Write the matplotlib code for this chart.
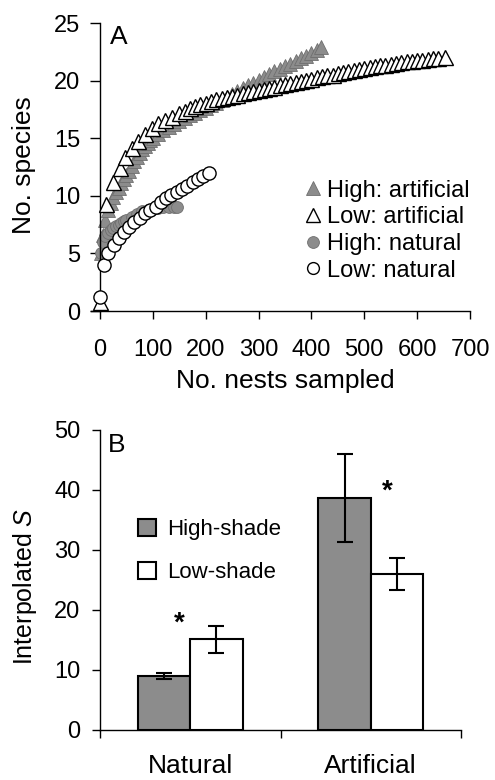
import matplotlib
matplotlib.use("Agg")
import matplotlib.pyplot as plt
from matplotlib.lines import Line2D
from matplotlib.patches import Patch

plt.rcParams['font.family'] = ['Liberation Sans', 'DejaVu Sans']
plt.rcParams['mathtext.fontset'] = 'custom'
plt.rcParams['mathtext.it'] = 'Liberation Sans:italic'
plt.rcParams['mathtext.rm'] = 'Liberation Sans'

# ---------------- Panel A data (rarefaction curves) ----------------
high_art_x = [1, 5, 10, 15, 20, 25, 30, 35, 40, 45, 50, 55, 60, 65, 70, 75, 80, 85, 90, 95,
              100, 110, 120, 130, 140, 150, 160, 170, 180, 190, 200, 210, 220, 230, 240,
              250, 260, 270, 280, 290, 300, 310, 320, 330, 340, 350, 360, 370, 380, 390,
              400, 410, 418]
high_art_y = [5.0, 6.6, 7.9, 8.8, 9.4, 9.9, 10.3, 10.7, 11.1, 11.5, 11.85, 12.2, 12.6, 13.0,
              13.35, 13.7, 14.05, 14.35, 14.6, 14.85, 15.05, 15.4, 15.7, 16.0, 16.25, 16.5,
              16.75, 17.0, 17.2, 17.45, 17.65, 17.9, 18.1, 18.35, 18.6, 18.85, 19.1, 19.35,
              19.6, 19.85, 20.1, 20.35, 20.6, 20.85, 21.05, 21.3, 21.5, 21.75, 22.0, 22.2,
              22.45, 22.7, 22.9]

low_art_x = [0, 12, 25, 37, 48, 60, 72, 85, 98, 110, 123, 136, 150, 160, 170, 180, 190, 200,
             210, 220, 230, 240, 250, 260, 270, 280, 290, 300, 310, 320, 330, 340, 350, 360,
             370, 380, 390, 400, 410, 420, 430, 440, 450, 460, 470, 480, 490, 500, 510, 520,
             530, 540, 550, 560, 570, 580, 590, 600, 610, 620, 630, 640, 652]
low_art_y = [0.8, 9.3, 11.2, 12.4, 13.4, 14.2, 14.8, 15.4, 15.9, 16.3, 16.6, 16.9, 17.2, 17.4,
             17.6, 17.8, 17.95, 18.1, 18.25, 18.4, 18.5, 18.6, 18.7, 18.8, 18.9, 19.0, 19.1,
             19.2, 19.3, 19.4, 19.5, 19.6, 19.7, 19.8, 19.9, 20.0, 20.1, 20.2, 20.3, 20.4,
             20.5, 20.55, 20.65, 20.75, 20.85, 20.95, 21.05, 21.1, 21.2, 21.3, 21.35, 21.4,
             21.5, 21.55, 21.6, 21.7, 21.75, 21.8, 21.85, 21.9, 21.95, 22.0, 22.1]

high_nat_x = [1, 5, 10, 15, 20, 25, 30, 35, 40, 45, 50, 60, 70, 80, 90, 100, 110, 120, 130,
              140, 145]
high_nat_y = [5.0, 6.0, 6.5, 6.8, 7.0, 7.2, 7.35, 7.5, 7.65, 7.8, 7.95, 8.2, 8.45, 8.65, 8.8,
              8.9, 8.95, 9.0, 9.0, 9.05, 9.05]

low_nat_x = [0, 7, 16, 26, 35, 45, 55, 65, 75, 85, 95, 105, 115, 125, 135, 145, 155, 165, 175,
             185, 195, 206]
low_nat_y = [1.2, 4.0, 5.0, 5.7, 6.3, 6.9, 7.3, 7.75, 8.1, 8.5, 8.8, 9.05, 9.5, 9.8, 10.1,
             10.35, 10.6, 10.9, 11.2, 11.5, 11.7, 11.95]

legend_a_labels = ['High: artificial', 'Low: artificial', 'High: natural', 'Low: natural']
xticks_a = [0, 100, 200, 300, 400, 500, 600, 700]
yticks_a = [0, 5, 10, 15, 20, 25]

# ---------------- Panel B data ----------------
categories = ['Natural', 'Artificial']
high_shade = [9.0, 38.7]
high_shade_err = [0.5, 7.3]
low_shade = [15.1, 26.0]
low_shade_err = [2.3, 2.7]
legend_b_labels = ['High-shade', 'Low-shade']
yticks_b = [0, 10, 20, 30, 40, 50]

GREY = '#8c8c8c'
W, H = 495, 780
fig = plt.figure(figsize=(W / 100, H / 100), dpi=100)

TICK_FS = 17
LABEL_FS = 19

# ================= Panel A =================
axA = fig.add_axes([90.7 / W, (H - 311) / H, (470 - 90.7) / W, (311 - 23.3) / H])
axA.plot(high_art_x, high_art_y, linestyle='none', marker='^', ms=10.5, mfc=GREY,
         mec='#6e6e6e', mew=0.6, clip_on=False, zorder=2)
axA.plot(high_nat_x, high_nat_y, linestyle='none', marker='o', ms=8.5, mfc=GREY,
         mec='#6e6e6e', mew=0.6, clip_on=False, zorder=2)
axA.plot(low_art_x, low_art_y, linestyle='none', marker='^', ms=10.8, mfc='white',
         mec='black', mew=1.0, clip_on=False, zorder=3)
axA.plot(low_nat_x, low_nat_y, linestyle='none', marker='o', ms=9.5, mfc='white',
         mec='black', mew=1.0, clip_on=False, zorder=4)

axA.set_xlim(-17.6, 700)
axA.set_ylim(0, 25)
axA.spines['top'].set_visible(False)
axA.spines['right'].set_visible(False)
axA.spines['left'].set_position(('data', 0))
for s in axA.spines.values():
    s.set_linewidth(1.0)
axA.set_xticks(xticks_a)
axA.set_yticks(yticks_a)
axA.tick_params(axis='x', direction='out', length=6, width=1.0, pad=14, labelsize=TICK_FS)
axA.tick_params(axis='y', direction='out', length=7, width=1.0, pad=7, labelsize=TICK_FS)
axA.set_xlabel('No. nests sampled', fontsize=LABEL_FS)
axA.xaxis.set_label_coords(0.512, -0.2)
axA.set_ylabel('No. species', fontsize=LABEL_FS)
axA.yaxis.set_label_coords(-0.145, 0.507)
axA.text(0.051, 0.994, 'A', transform=axA.transAxes, ha='left', va='top', fontsize=LABEL_FS)

handlesA = [
    Line2D([], [], linestyle='none', marker='^', ms=10.5, mfc=GREY, mec='#6e6e6e', mew=0.6),
    Line2D([], [], linestyle='none', marker='^', ms=10.5, mfc='white', mec='black', mew=1.0),
    Line2D([], [], linestyle='none', marker='o', ms=8.5, mfc=GREY, mec='#6e6e6e', mew=0.6),
    Line2D([], [], linestyle='none', marker='o', ms=8.5, mfc='white', mec='black', mew=1.0),
]
axA.legend(handlesA, legend_a_labels, loc='upper left', bbox_to_anchor=(0.5676, 0.457),
           frameon=False, fontsize=17, handlelength=0.6, handletextpad=0.3,
           labelspacing=0.2, borderpad=0, borderaxespad=0)

# ================= Panel B =================
axB = fig.add_axes([100 / W, 50 / H, 361 / W, 300 / H])
pos = list(range(len(categories)))
bw = 0.29
off = 0.145
axB.bar([p - off for p in pos], high_shade, width=bw, color=GREY, edgecolor='black',
        linewidth=1.5, zorder=2)
axB.bar([p + off for p in pos], low_shade, width=bw, color='white', edgecolor='black',
        linewidth=1.5, zorder=2)
axB.errorbar([p - off for p in pos], high_shade, yerr=high_shade_err, fmt='none',
             ecolor='black', elinewidth=1.5, capsize=5.5, capthick=1.5, zorder=3)
axB.errorbar([p + off for p in pos], low_shade, yerr=low_shade_err, fmt='none',
             ecolor='black', elinewidth=1.5, capsize=5.5, capthick=1.5, zorder=3)

axB.set_xlim(-0.5, 1.5)
axB.set_ylim(0, 50)
axB.spines['top'].set_visible(False)
axB.spines['right'].set_visible(False)
for s in axB.spines.values():
    s.set_linewidth(1.0)
axB.set_xticks([-0.5, 0.5, 1.5])
axB.set_xticklabels([])
axB.set_xticks(pos, minor=True)
axB.set_xticklabels(categories, minor=True, fontsize=LABEL_FS)
axB.tick_params(axis='x', which='major', direction='out', length=6, width=1.0)
axB.tick_params(axis='x', which='minor', length=0, pad=17)
axB.set_yticks(yticks_b)
axB.tick_params(axis='y', direction='out', length=6, width=1.0, pad=8, labelsize=TICK_FS)
axB.set_ylabel('Interpolated $\\mathit{S}$', fontsize=18)
axB.yaxis.set_label_coords(-0.17, 0.48)
axB.text(0.022, 0.99, 'B', transform=axB.transAxes, ha='left', va='top', fontsize=LABEL_FS)

# significance asterisks
axB.text(pos[0] - 0.058, 16.5, '*', ha='center', va='baseline', fontsize=20, fontweight='bold')
axB.text(pos[1] + 0.09, 38.6, '*', ha='center', va='baseline', fontsize=20, fontweight='bold')

handlesB = [Patch(facecolor=GREY, edgecolor='black', linewidth=1.5),
            Patch(facecolor='white', edgecolor='black', linewidth=1.5)]
axB.legend(handlesB, legend_b_labels, loc='upper left', bbox_to_anchor=(0.105, 0.703),
           frameon=False, fontsize=16, handlelength=0.81, handleheight=0.81,
           handletextpad=0.5, labelspacing=0.95, borderpad=0, borderaxespad=0)

fig.savefig('out.png', dpi=100)
